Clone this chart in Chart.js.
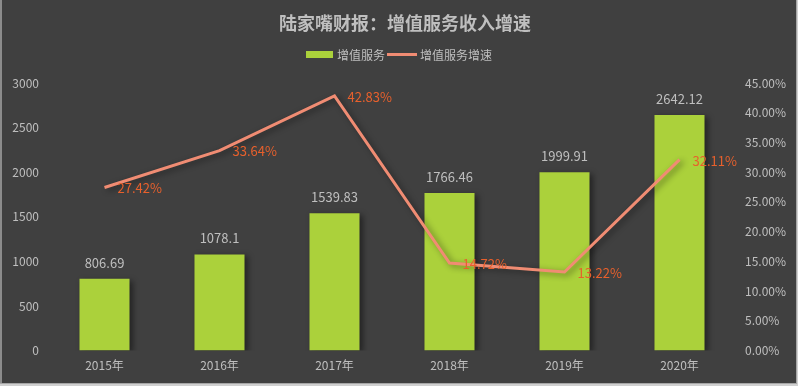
<!DOCTYPE html>
<html>
<head>
<meta charset="utf-8">
<script src="https://cdn.jsdelivr.net/npm/chart.js"></script>
<style>
  html, body { margin: 0; padding: 0; background: #d0d0d0; }
  #wrap { width: 798px; height: 386px; }
</style>
</head>
<body>
<div id="wrap"><canvas id="growthChart" width="798" height="386"></canvas></div>
<script>
// data
const years = ["2015年", "2016年", "2017年", "2018年", "2019年", "2020年"];
const serviceRevenue = [806.69, 1078.1, 1539.83, 1766.46, 1999.91, 2642.12];
const serviceGrowth = [27.42, 33.64, 42.83, 14.72, 13.22, 32.11];
const chartTitle = "陆家嘴财报：增值服务收入增速";
const barLabel = "增值服务";
const lineLabel = "增值服务增速";

const fontFamily = "'Noto Sans CJK SC', 'Open Sans', sans-serif";
const textGray = "#bfbfbf";
const barColor = "#abd13b";
const lineColor = "#f08c73";
const pctColor = "#e8602c";

// background, frame, title and legend
const framePlugin = {
    id: "frame",
    beforeDraw(chart) {
        const c = chart.ctx;
        c.save();
        c.fillStyle = "#404040";
        c.fillRect(0, 0, 796, 383);
        c.fillStyle = "#8c8c8c";
        c.fillRect(0, 0, 2, 383);
        c.fillStyle = "#a6a6a6";
        c.fillRect(796, 0, 1, 384);
        c.fillRect(0, 383, 797, 1);
        c.restore();
    },
    afterDraw(chart) {
        const c = chart.ctx;
        c.save();
        c.fillStyle = textGray;
        c.textAlign = "center";
        c.textBaseline = "middle";
        c.font = "bold 18px " + fontFamily;
        c.fillText(chartTitle, 405, 23);

        // legend
        c.font = "12px " + fontFamily;
        c.textAlign = "left";
        c.fillStyle = barColor;
        c.fillRect(306, 51, 27, 7);
        c.fillStyle = textGray;
        c.fillText(barLabel, 337, 55);
        c.strokeStyle = lineColor;
        c.lineWidth = 3;
        c.beginPath();
        c.moveTo(387, 54.5);
        c.lineTo(417, 54.5);
        c.stroke();
        c.fillText(lineLabel, 420, 55);
        c.restore();
    }
};

// drop shadow for bars and line
const shadowPlugin = {
    id: "shadow",
    beforeDatasetDraw(chart) {
        const c = chart.ctx;
        c.save();
        c.shadowColor = "rgba(0,0,0,0.45)";
        c.shadowBlur = 6;
        c.shadowOffsetX = 3;
        c.shadowOffsetY = 2;
    },
    afterDatasetDraw(chart) {
        chart.ctx.restore();
    }
};

// value labels
const labelPlugin = {
    id: "valueLabels",
    afterDatasetsDraw(chart) {
        const c = chart.ctx;
        c.save();
        c.font = "13px " + fontFamily;
        c.textBaseline = "middle";

        chart.getDatasetMeta(1).data.forEach((bar, i) => {
            c.fillStyle = textGray;
            c.textAlign = "center";
            c.fillText(String(serviceRevenue[i]), bar.x, bar.y - 16);
        });
        chart.getDatasetMeta(0).data.forEach((pt, i) => {
            c.fillStyle = pctColor;
            c.textAlign = "left";
            c.fillText(serviceGrowth[i].toFixed(2) + "%", pt.x + 13, pt.y + 1);
        });
        c.restore();
    }
};

const ctx = document.getElementById("growthChart").getContext("2d");
new Chart(ctx, {
    data: {
        labels: years,
        datasets: [
            {
                type: "line",
                label: lineLabel,
                data: serviceGrowth,
                yAxisID: "yPct",
                borderColor: lineColor,
                borderWidth: 3,
                pointRadius: 0,
                tension: 0,
                order: 0
            },
            {
                type: "bar",
                label: barLabel,
                data: serviceRevenue,
                yAxisID: "y",
                backgroundColor: barColor,
                barPercentage: 0.435,
                categoryPercentage: 1,
                order: 1
            }
        ]
    },
    options: {
        responsive: false,
        animation: false,
        layout: { padding: { top: 83, right: 0, bottom: 5, left: 0 } },
        plugins: {
            legend: { display: false },
            title: { display: false },
            tooltip: { enabled: false }
        },
        scales: {
            x: {
                grid: { display: false, drawTicks: false },
                border: { display: false },
                ticks: { color: textGray, font: { size: 12, family: fontFamily }, padding: 8 }
            },
            y: {
                position: "left",
                min: 0,
                max: 3000,
                grid: { display: false, drawTicks: false },
                border: { display: false },
                ticks: {
                    stepSize: 500,
                    color: textGray,
                    font: { size: 12, family: fontFamily },
                    padding: 8,
                    callback: v => String(v)
                },
                afterFit(scale) { scale.width = 47; }
            },
            yPct: {
                position: "right",
                min: 0,
                max: 45,
                grid: { display: false, drawTicks: false },
                border: { display: false },
                ticks: {
                    stepSize: 5,
                    color: textGray,
                    font: { size: 12, family: fontFamily },
                    padding: 8,
                    callback: v => v.toFixed(2) + "%"
                },
                afterFit(scale) { scale.width = 61; }
            }
        }
    },
    plugins: [framePlugin, shadowPlugin, labelPlugin]
});
</script>
</body>
</html>
